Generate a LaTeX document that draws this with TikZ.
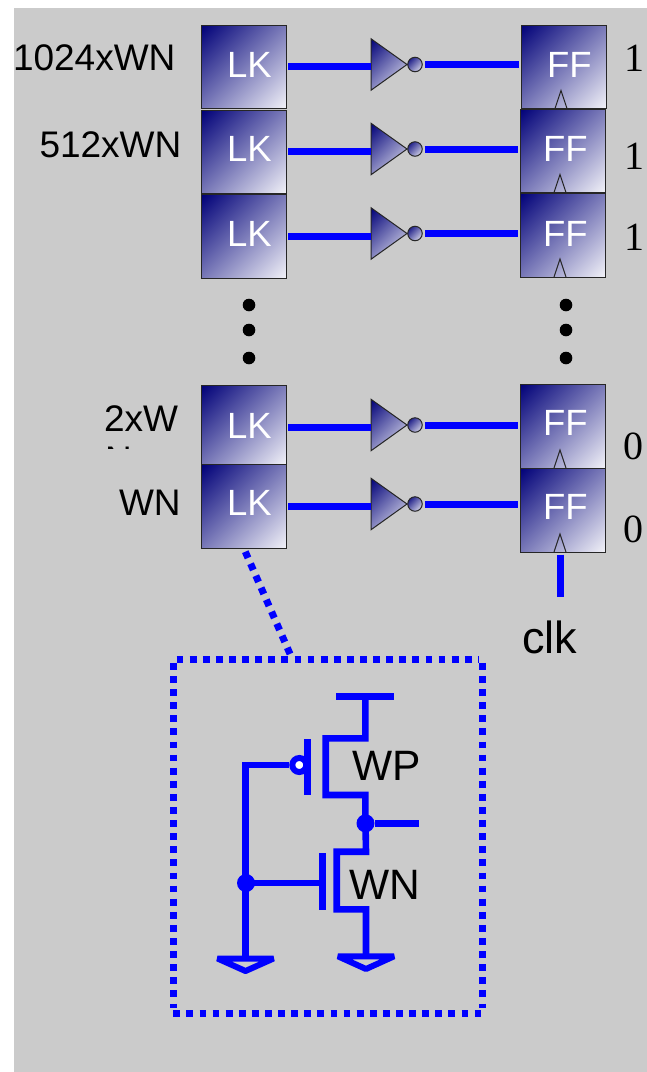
\documentclass[tikz,border=0pt]{standalone}
\usepackage{fontspec}
\setmainfont{Liberation Sans}
\newfontfamily\numfont{Liberation Serif}
\usetikzlibrary{shapes.geometric}
\definecolor{bggray}{HTML}{CBCBCB}
\definecolor{wireblue}{HTML}{0000FF}
\definecolor{gradnavy}{HTML}{000078}
\definecolor{gradlight}{HTML}{F2F2F8}
\pgfdeclareverticalshading{cellgrad}{100bp}{color(0bp)=(gradlight); color(14.6bp)=(gradlight); color(85.4bp)=(gradnavy); color(100bp)=(gradnavy)}
\tikzset{
  grad/.style={shading=cellgrad,shading angle=45},
  cellbox/.style={rectangle,draw=black!85,line width=1pt,grad,inner sep=0pt,outer sep=0pt},
  invtri/.style={isosceles triangle,isosceles triangle stretches,draw=black!85,line width=1pt,grad,inner sep=0pt,outer sep=0pt,minimum width=51.5pt,minimum height=36pt,anchor=lower side},
  invbub/.style={circle,draw=black!85,line width=1pt,grad,minimum size=14.5pt,inner sep=0pt,outer sep=0pt},
  wire/.style={draw=wireblue,line width=7pt},
  cwire/.style={draw=wireblue,line width=6.6pt},
  dotline/.style={draw=wireblue,line width=7pt,dash pattern=on 6.8pt off 6.3pt},
  txt/.style={anchor=base west,inner sep=0pt,outer sep=0pt,font=\fontsize{37}{37}\selectfont},
  celltxt/.style={txt,text=white,font=\fontsize{36.5}{36.5}\selectfont},
  bigtxt/.style={txt,font=\fontsize{42.5}{42.5}\selectfont},
  numtxt/.style={txt,font=\numfont\fontsize{40}{40}\selectfont},
  clkmark/.style={draw=black!85,line width=1pt},
  bigdot/.style={circle,fill=black,minimum size=12.6pt,inner sep=0pt},
  joint/.style={circle,fill=wireblue,minimum size=18pt,inner sep=0pt},
  gndtri/.style={draw=wireblue,line width=6pt,line join=bevel}
}
\begin{document}
\begin{tikzpicture}[x=1pt,y=-1pt]
\useasboundingbox (0,0) rectangle (647,1072);
\fill[white] (0,0) rectangle (647,1072);
\fill[bggray] (14,8) rectangle (647,1072);
% five stages: name / LK top / LK bottom / inverter y / FF left / FF top / FF bottom / left wire shift / LK text y / FF text y / FF text x
\foreach \n/\lt/\lb/\iy/\fx/\ft/\fb/\dl/\lby/\fty/\fox in {
  a/25/108.5/64.5/521/25/108.5/0/77/77/547,
  b/110/193.5/149/520/109/192.5/0/161/161/543,
  c/194.5/278/233.5/520/193/277/0/246/246/543,
  d/385.3/464.3/425/520/384/468/2.4/438/435/543,
  e/464.3/548/504/520/468/552/0/515/519/543}{
  \node[cellbox,minimum width=84.5pt,minimum height={(\lb-\lt)*1pt}] (lk\n) at (243.75,{(\lt+\lb)/2}) {};
  \node[celltxt] (lktxt\n) at (227.2,\lby) {LK};
  \node[cellbox,minimum width=85pt,minimum height={(\fb-\ft)*1pt}] (ff\n) at ({\fx+42.5},{(\ft+\fb)/2}) {};
  \node[celltxt] (fftxt\n) at (\fox,\fty) {FF};
  \coordinate (ckb\n) at ({\fx+34},\fb);
  \coordinate (ckt\n) at ({\fx+40},{\fb-18});
  \coordinate (ckc\n) at ({\fx+46},\fb);
  \draw[clkmark] (ckb\n) -- (ckt\n) -- (ckc\n);
  \node[invtri] (inv\n) at (371,\iy) {};
  \node[invbub] (bub\n) at (415,\iy) {};
  \draw[wire,shorten <=2pt] ([yshift=-\dl pt]lk\n.east) -- ([yshift=-\dl pt]lk\n.east -| inv\n.lower side);
  \draw[wire,shorten <=2.7pt,shorten >=2.5pt] (bub\n.east) -- (bub\n.east -| ff\n.west);
}
% left labels
\node[txt] (l1) at (13,70) {1024xWN};
\node[txt] (l2) at (39.5,157) {512xWN};
\node[txt] (l3) at (104,431) {2xW};
\begin{scope}
  \clip (90,440) rectangle (190,448.5);
  \node[txt] (l3b) at (105,472) {N};
\end{scope}
\node[txt] (l4) at (119,515) {WN};
% right numbers
\node[numtxt] (n1) at (624,71) {1};
\node[numtxt] (n2) at (624,169.5) {1};
\node[numtxt] (n3) at (624,250) {1};
\node[numtxt] (n4) at (623,459) {0};
\node[numtxt] (n5) at (623,542.7) {0};
% ellipsis dots
\foreach \y/\k in {305/1,330/2,358/3}{
  \node[bigdot] (dl\k) at (249,\y) {};
  \node[bigdot] (dr\k) at (566,\y) {};
}
% clock
\coordinate (clkend) at (560.7,597);
\draw[wire,shorten <=2.7pt] (ffe.south -| clkend) -- (clkend);
\node[txt,font=\fontsize{45}{45}\selectfont] (clk) at (522,653) {clk};
% detail box
\coordinate (bxa) at (173.3,659.3);
\coordinate (bxb) at (482.3,659.3);
\coordinate (bxc) at (482.3,1013);
\coordinate (bxd) at (173.3,1013);
\draw[dotline] ([xshift=3.3pt]bxa) -- ([xshift=-3pt]bxb);
\draw[dotline] ([yshift=-3.6pt]bxb) -- ([yshift=5pt]bxc);
\draw[dotline] (bxd) -- (bxc);
\draw[dotline] ([yshift=-3.6pt]bxa) -- ([yshift=5pt]bxd);
\coordinate (zoomfrom) at (245.3,551.7);
\coordinate (zoomto) at (290.5,655);
\draw[dotline] (zoomfrom) -- (zoomto);
% inverter schematic
\coordinate (vddl) at (336,696.7);
\coordinate (vddr) at (394,696.7);
\coordinate (vddm) at (365.3,696.7);
\coordinate (ps) at (365.3,738.3);
\coordinate (psl) at (325.7,738.3);
\coordinate (pdl) at (325.7,795);
\coordinate (pd) at (365.3,795);
\coordinate (nd) at (366,851.7);
\coordinate (ndl) at (336.7,851.7);
\coordinate (nsl) at (336.7,909.3);
\coordinate (ns) at (366,909.3);
\coordinate (gndr) at (366,956.3);
\coordinate (gndl) at (245.5,958.5);
\node[joint] (outj) at (365.5,823.3) {};
\node[joint] (gatej) at (246,883) {};
\coordinate (outend) at (419,823.3);
\draw[cwire] (vddl) -- (vddr);
\draw[cwire] (vddm) -- (ps) -- (psl) -- (pdl) -- (pd) -- (outj.center) -- (nd) -- (ndl) -- (nsl) -- (ns) -- (gndr);
\draw[cwire] (outj) -- (outend);
\coordinate (pbar1) at (307.3,739.3);
\coordinate (pbar2) at (307.3,795);
\draw[cwire] (pbar1) -- (pbar2);
\coordinate (nbar1) at (322.3,853);
\coordinate (nbar2) at (322.3,910);
\draw[cwire] (nbar1) -- (nbar2);
\coordinate (gtop) at (245.5,765);
\node[circle,draw=wireblue,line width=6pt,fill=white,minimum size=14pt,inner sep=0pt] (pbub) at (299.3,765) {};
\draw[cwire,line join=miter] (pbub) -- (gtop) -- (gndl);
\draw[cwire] (gatej.center) -- (nbar1 |- gatej.center);
% grounds
\coordinate (g1a) at (217.5,958.5);
\coordinate (g1b) at (273.5,958.5);
\coordinate (g1c) at (245.5,971);
\draw[gndtri] (g1a) -- (g1b) -- (g1c) -- cycle;
\coordinate (g2a) at (338,956.3);
\coordinate (g2b) at (394,956.3);
\coordinate (g2c) at (366,969);
\draw[gndtri] (g2a) -- (g2b) -- (g2c) -- cycle;
\node[bigtxt] (wp) at (352.5,780.7) {WP};
\node[bigtxt] (wn) at (349,899) {WN};
\end{tikzpicture}
\end{document}
